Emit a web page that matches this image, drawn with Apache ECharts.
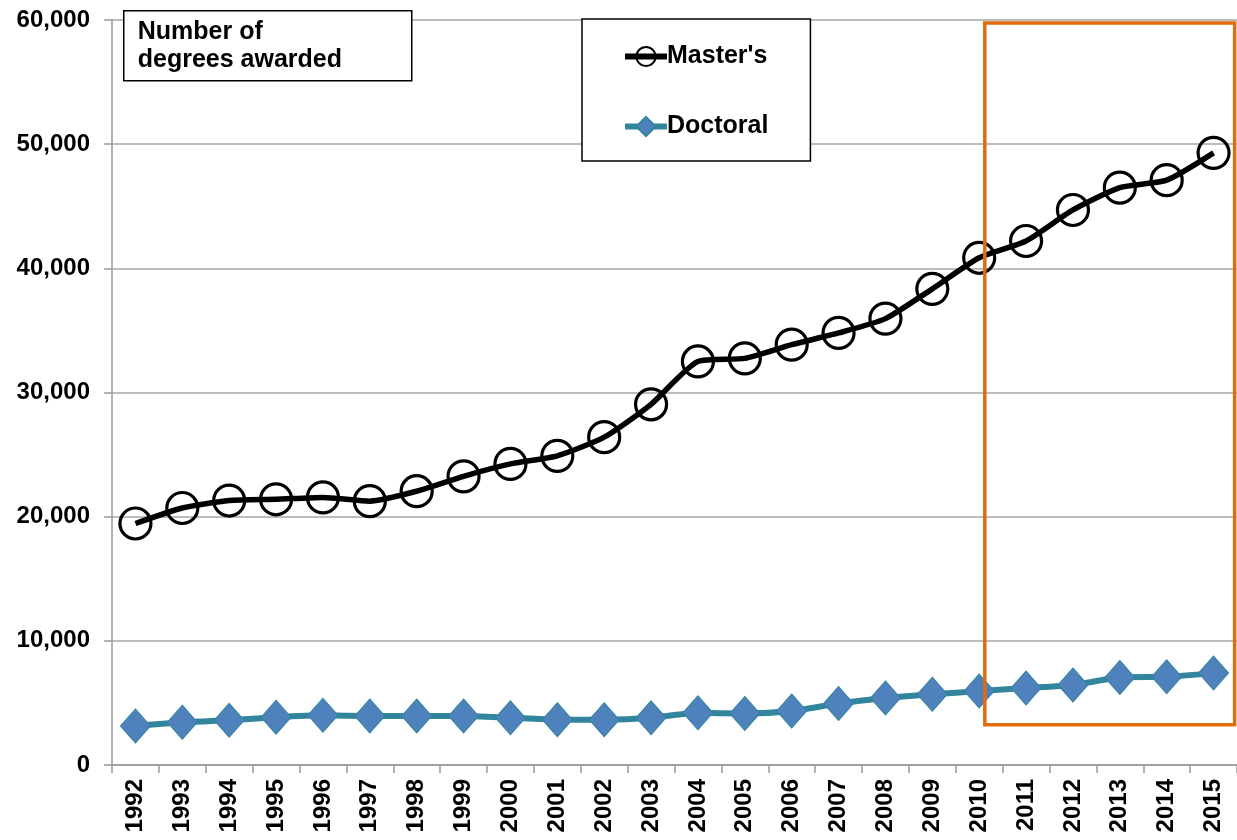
<!DOCTYPE html>
<html>
<head>
<meta charset="utf-8">
<script src="https://cdn.jsdelivr.net/npm/echarts@6/dist/echarts.min.js"></script>
<style>
html,body{margin:0;padding:0;background:#fff;}
#chart{width:1237px;height:840px;}
</style>
</head>
<body>
<div id="chart"></div>
<script>
const years = ['1992','1993','1994','1995','1996','1997','1998','1999','2000','2001','2002','2003','2004','2005','2006','2007','2008','2009','2010','2011','2012','2013','2014','2015'];
const masters = [19450,20700,21300,21400,21550,21250,22050,23250,24250,24900,26400,29050,32500,32750,33850,34800,35950,38350,40850,42200,44700,46500,47100,49300];
const doctoral = [3150,3450,3600,3850,4000,3950,3950,3950,3800,3650,3650,3800,4200,4150,4350,4950,5400,5700,5950,6200,6450,7050,7100,7400];
const yTicks = [0,10000,20000,30000,40000,50000,60000];
const highlight = {fromIndex: 18.12, toIndex: 23.45, low: 3250, high: 59750};

const FONT = '"Liberation Sans", Arial, sans-serif';
const chart = echarts.init(document.getElementById('chart'));
chart.setOption({
  backgroundColor: '#fff',
  animation: false,
  grid: {left: 112, right: 0, top: 20, bottom: 75},
  legend: {
    orient: 'vertical',
    left: 582, top: 19,
    backgroundColor: '#fff',
    borderColor: '#000', borderWidth: 1.5,
    padding: [25, 42, 22, 40],
    itemGap: 45,
    itemWidth: 42, itemHeight: 24,
    lineStyle: {width: 6},
    textStyle: {fontFamily: FONT, fontWeight: 'bold', fontSize: 25, color: '#000', padding: [0,0,0,-5]},
    data: ["Master's", 'Doctoral']
  },
  xAxis: {
    type: 'category',
    data: years,
    boundaryGap: true,
    axisLine: {lineStyle: {color: '#999', width: 1.5}},
    axisTick: {show: true, length: 8, lineStyle: {color: '#999', width: 1.5}},
    axisLabel: {rotate: 90, fontFamily: FONT, fontWeight: 'bold', fontSize: 24, color: '#000', margin: 14, interval: 0},
    splitLine: {show: false}
  },
  yAxis: {
    type: 'value',
    min: yTicks[0], max: yTicks[yTicks.length-1], interval: 10000,
    axisLine: {show: true, lineStyle: {color: '#999', width: 1.5}},
    axisTick: {show: true, length: 8, lineStyle: {color: '#999', width: 1.5}},
    axisLabel: {fontFamily: FONT, fontWeight: 'bold', fontSize: 24, color: '#000', margin: 22,
      formatter: v => v.toLocaleString('en-US')},
    splitLine: {lineStyle: {color: '#a6a6a6', width: 1.5}}
  },
  series: [
    {
      name: "Master's", type: 'line', data: masters, smooth: 0.2,
      symbol: 'circle', symbolSize: 31,
      lineStyle: {color: '#000', width: 5.5},
      itemStyle: {color: 'rgba(0,0,0,0)', borderColor: '#000', borderWidth: 3.2},
      z: 3
    },
    {
      name: 'Doctoral', type: 'line', data: doctoral, smooth: 0.2,
      symbol: 'diamond', symbolSize: [30, 34],
      lineStyle: {color: '#31859C', width: 6},
      itemStyle: {color: '#4F81BD', borderColor: '#31859C', borderWidth: 1},
      z: 3
    }
  ]
});

function xPixel(idx) {
  const i0 = Math.floor(idx);
  const a = chart.convertToPixel({gridIndex: 0}, [i0, 0])[0];
  const b = chart.convertToPixel({gridIndex: 0}, [i0 + 1, 0])[0];
  return a + (b - a) * (idx - i0);
}
const yPixel = v => chart.convertToPixel({gridIndex: 0}, [0, v])[1];
const rx1 = xPixel(highlight.fromIndex), rx2 = xPixel(highlight.toIndex);
const ry1 = yPixel(highlight.high), ry2 = yPixel(highlight.low);
chart.setOption({
  graphic: [
    {
      type: 'group', left: 123, top: 10, z: 10,
      children: [
        {type: 'rect', shape: {x: 0, y: 0, width: 288, height: 70},
          style: {fill: '#fff', stroke: '#000', lineWidth: 1.5}},
        {type: 'text', left: 14, top: 7,
          style: {text: 'Number of\ndegrees awarded', font: 'bold 25px ' + FONT, fill: '#000', lineHeight: 28}}
      ]
    },
    {
      type: 'rect', z: 10,
      shape: {x: rx1, y: ry1, width: rx2 - rx1, height: ry2 - ry1},
      style: {fill: 'none', stroke: '#E36C0A', lineWidth: 3.5}
    }
  ]
});
</script>
</body>
</html>
